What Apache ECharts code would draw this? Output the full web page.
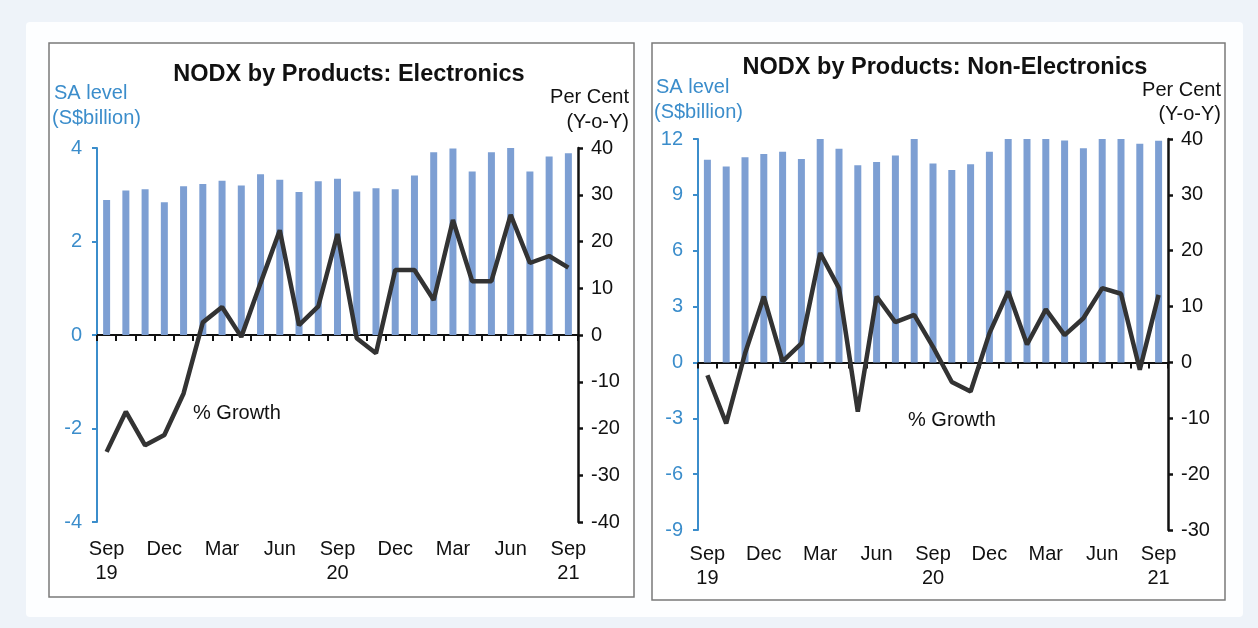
<!DOCTYPE html>
<html>
<head>
<meta charset="utf-8">
<script src="https://cdn.jsdelivr.net/npm/echarts@6/dist/echarts.min.js"></script>
<style>
html,body{margin:0;padding:0;background:#eef3f9;}
#c{width:1258px;height:628px;}
</style>
</head>
<body>
<div id="c"></div>
<script>
const months = ['Sep 19','Oct 19','Nov 19','Dec 19','Jan 20','Feb 20','Mar 20','Apr 20','May 20','Jun 20','Jul 20','Aug 20',
  'Sep 20','Oct 20','Nov 20','Dec 20','Jan 21','Feb 21','Mar 21','Apr 21','May 21','Jun 21','Jul 21','Aug 21','Sep 21'];

// Electronics: SA level (S$billion) and % growth (y-o-y)
const elecLevel = [2.89,3.09,3.12,2.84,3.18,3.23,3.30,3.20,3.44,3.32,3.06,3.29,3.34,3.07,3.14,3.12,3.41,3.91,3.99,3.50,3.91,4.00,3.50,3.82,3.89];
const elecGrowth = [-25.0,-16.4,-23.6,-21.4,-12.5,2.7,6.0,-0.4,11.1,22.4,2.1,6.1,21.6,-0.7,-3.9,13.9,13.9,7.5,24.6,11.5,11.5,25.7,15.4,16.9,14.4];

// Non-Electronics
const nonElecLevel = [10.88,10.52,11.02,11.20,11.31,10.93,12.00,11.47,10.59,10.77,11.11,12.00,10.68,10.34,10.64,11.32,12.00,12.00,12.00,11.92,11.50,12.00,12.00,11.74,11.90];
const nonElecGrowth = [-2.3,-10.9,1.6,11.8,0.2,3.4,19.6,13.3,-8.8,11.8,7.2,8.5,2.8,-3.5,-5.2,5.2,12.7,3.2,9.5,4.9,7.9,13.3,12.3,-1.3,12.1];

const titles = ['NODX by Products: Electronics','NODX by Products: Non-Electronics'];
const leftAxisName = ['SA level','(S$billion)'];
const rightAxisName = ['Per Cent','(Y-o-Y)'];
const growthLabel = '% Growth';

const FONT = '"Liberation Sans", Arial, sans-serif';
const FS = 20;
const BLUE = '#3b8dcb';
const BAR = '#7d9fd3';
const LINE = '#333333';

const chart = echarts.init(document.getElementById('c'), null, {renderer:'canvas'});

function txt(x, y, text, opt) {
  opt = opt || {};
  return {type:'text', x:x, y:y, z:100, silent:true,
    style:{text:text, fill:opt.fill||'#111', font:(opt.bold?'bold ':'')+(opt.size||FS)+'px '+FONT,
      align:opt.align||'left', verticalAlign:'middle'}};
}

function monthFmt(v){ const p = v.split(' '); return p[0]==='Sep' ? p[0]+'\n'+p[1] : p[0]; }

function xAxes(gi, m){
  return [
    {type:'category', gridIndex:gi, data:months, position:'bottom',
     axisLine:{show:false, onZero:false}, axisTick:{show:false},
     axisLabel:{interval:2, formatter:monthFmt, color:'#111', fontSize:FS, fontFamily:FONT, lineHeight:24, margin:m}},
    {type:'category', gridIndex:gi, data:months, position:'bottom',
     axisLine:{show:true, onZero:true, lineStyle:{color:'#111', width:2}},
     axisTick:{show:true, interval:0, length:6, lineStyle:{color:'#111', width:2}},
     axisLabel:{show:false}}
  ];
}

function yAxes(gi, lmin, lmax, lint, rmin, rmax, rint){
  return [
    {type:'value', gridIndex:gi, position:'left', min:lmin, max:lmax, interval:lint,
     axisLine:{show:true, lineStyle:{color:BLUE, width:2}},
     axisTick:{show:true, length:5, lineStyle:{color:BLUE, width:2}},
     splitLine:{show:false},
     axisLabel:{color:BLUE, fontSize:FS, fontFamily:FONT, margin:15}},
    {type:'value', gridIndex:gi, position:'right', min:rmin, max:rmax, interval:rint,
     axisLine:{show:true, lineStyle:{color:'#111', width:2.5}},
     axisTick:{show:true, length:5, lineStyle:{color:'#111', width:2.5}},
     splitLine:{show:false},
     axisLabel:{color:'#111', fontSize:FS, fontFamily:FONT, margin:13}}
  ];
}

const option = {
  backgroundColor:'#eef3f9',
  animation:false,
  grid:[
    {left:97, width:481, top:148, height:374},
    {left:698, width:470, top:139, height:391}
  ],
  xAxis:[...xAxes(0, 15), ...xAxes(1, 12)],
  yAxis:[...yAxes(0,-4,4,2,-40,40,10), ...yAxes(1,-9,12,3,-30,40,10)],
  series:[
    {type:'bar', xAxisIndex:0, yAxisIndex:0, data:elecLevel, barWidth:7, itemStyle:{color:BAR}, z:2},
    {type:'line', xAxisIndex:0, yAxisIndex:1, data:elecGrowth, symbol:'none', lineStyle:{color:LINE, width:4.5}, z:5},
    {type:'bar', xAxisIndex:2, yAxisIndex:2, data:nonElecLevel, barWidth:7, itemStyle:{color:BAR}, z:2},
    {type:'line', xAxisIndex:2, yAxisIndex:3, data:nonElecGrowth, symbol:'none', lineStyle:{color:LINE, width:4.5}, z:5}
  ],
  graphic:[
    {type:'rect', z:-10, silent:true, shape:{x:26, y:22, width:1217, height:595, r:4}, style:{fill:'#fdfeff'}},
    {type:'rect', z:-9, silent:true, shape:{x:49, y:43, width:585, height:554}, style:{fill:'#ffffff', stroke:'#7a7a7a', lineWidth:1.5}},
    {type:'rect', z:-9, silent:true, shape:{x:652, y:43, width:573, height:557}, style:{fill:'#ffffff', stroke:'#7a7a7a', lineWidth:1.5}},
    txt(349, 75, titles[0], {bold:true, size:23.5, align:'center'}),
    txt(945, 68, titles[1], {bold:true, size:23.5, align:'center'}),
    txt(54, 93, leftAxisName[0], {fill:BLUE}),
    txt(52, 118, leftAxisName[1], {fill:BLUE}),
    txt(629, 97, rightAxisName[0], {align:'right'}),
    txt(629, 122, rightAxisName[1], {align:'right'}),
    txt(656, 87, leftAxisName[0], {fill:BLUE}),
    txt(654, 112, leftAxisName[1], {fill:BLUE}),
    txt(1221, 90, rightAxisName[0], {align:'right'}),
    txt(1221, 114, rightAxisName[1], {align:'right'}),
    txt(193, 413, growthLabel),
    txt(908, 420, growthLabel)
  ]
};
chart.setOption(option);
</script>
</body>
</html>
